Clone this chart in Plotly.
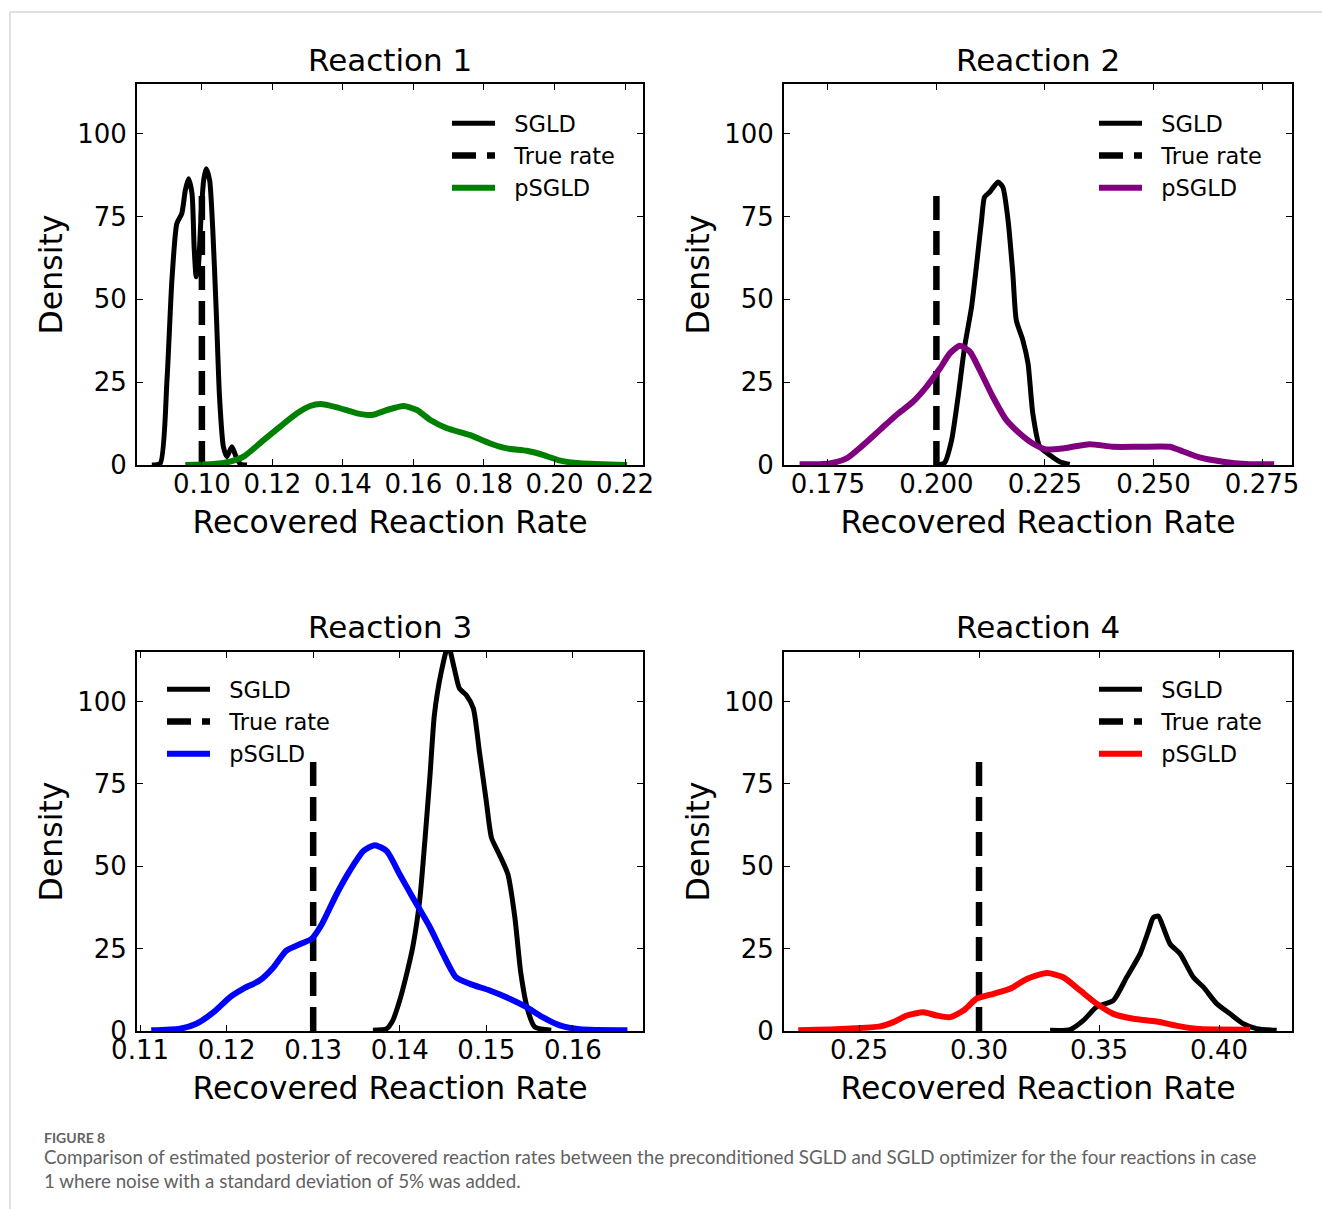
import plotly.graph_objects as go

# ---------------- data ----------------
titles = ["Reaction 1", "Reaction 2", "Reaction 3", "Reaction 4"]
true_rates = [0.10, 0.20, 0.13, 0.30]
true_rate_height = [83, 83, 83, 83]
psgld_colors = ["#008000", "#800080", "#0000ff", "#ff0000"]

r1_sgld_x = [0.0858, 0.0882, 0.0901, 0.0915, 0.0929, 0.0943, 0.0953, 0.0962, 0.0972, 0.0978,
             0.0984, 0.0990, 0.0998, 0.1005, 0.1012, 0.1022, 0.1031, 0.1041, 0.1050, 0.1061,
             0.1071, 0.1085, 0.1097, 0.1109, 0.1128]
r1_sgld_y = [0, 0.5, 25.6, 55.8, 72.9, 75.9, 82.9, 86.4, 81.9, 65.8,
             56.8, 59.8, 75.9, 85.9, 89.4, 85.9, 70.8, 45.7, 20.6, 5.5,
             2.5, 5.5, 2.5, 0.3, 0]
r1_psgld_x = [0.0953, 0.1033, 0.1080, 0.1118, 0.1175, 0.1222, 0.1270, 0.1307, 0.1336, 0.1383,
              0.1440, 0.1482, 0.1525, 0.1572, 0.1610, 0.1648, 0.1695, 0.1761, 0.1818, 0.1865,
              0.1922, 0.1969, 0.2017, 0.2073, 0.2206]
r1_psgld_y = [0, 0.3, 1.0, 2.5, 7.5, 11.6, 15.6, 17.8, 18.4, 17.4,
              15.6, 15.1, 16.6, 17.8, 16.6, 13.6, 11.1, 9.0, 6.5, 5.0,
              4.3, 3.0, 1.3, 0.5, 0]

r2_sgld_x = [0.2000, 0.2019, 0.2035, 0.2050, 0.2065, 0.2081, 0.2092, 0.2104, 0.2111, 0.2123,
             0.2142, 0.2153, 0.2165, 0.2176, 0.2184, 0.2199, 0.2211, 0.2222, 0.2238, 0.2261,
             0.2284, 0.2307]
r2_sgld_y = [0, 0.7, 7.5, 20.6, 35.7, 47.7, 59.8, 73.9, 80.9, 82.4,
             85.4, 83.9, 73.9, 57.8, 43.7, 37.7, 30.7, 15.6, 5.5, 3.0,
             1.0, 0.2]
r2_psgld_x = [0.1685, 0.1754, 0.1793, 0.1831, 0.1870, 0.1908, 0.1946, 0.1977, 0.2008, 0.2031,
              0.2054, 0.2077, 0.2100, 0.2130, 0.2161, 0.2192, 0.2222, 0.2253, 0.2291, 0.2353,
              0.2406, 0.2468, 0.2537, 0.2560, 0.2606, 0.2660, 0.2713, 0.2778]
r2_psgld_y = [0.2, 0.5, 2.0, 6.0, 10.6, 15.1, 19.1, 23.6, 29.1, 33.7,
              36.0, 34.2, 28.6, 20.6, 13.6, 9.5, 6.5, 4.7, 5.0, 6.3,
              5.5, 5.5, 5.5, 4.5, 2.3, 1.0, 0.3, 0.2]

r3_sgld_x = [0.1369, 0.1385, 0.1392, 0.1400, 0.1408, 0.1415, 0.1423, 0.1429, 0.1435, 0.1440,
             0.1448, 0.1456, 0.1463, 0.1469, 0.1477, 0.1485, 0.1492, 0.1500, 0.1506, 0.1515,
             0.1525, 0.1533, 0.1540, 0.1548, 0.1556, 0.1575]
r3_sgld_y = [0.2, 0.7, 3.2, 9.3, 17.3, 25.4, 39.5, 57.6, 77.7, 95.9,
             109.0, 117.0, 110.0, 103.9, 101.9, 97.9, 84.8, 69.7, 58.6, 53.6,
             47.5, 34.4, 17.3, 6.2, 1.2, 0.2]
r3_psgld_x = [0.1113, 0.1146, 0.1165, 0.1185, 0.1204, 0.1219, 0.1238, 0.1254, 0.1269, 0.1285,
              0.1298, 0.1310, 0.1327, 0.1342, 0.1358, 0.1371, 0.1385, 0.1400, 0.1415, 0.1435,
              0.1450, 0.1465, 0.1481, 0.1504, 0.1527, 0.1546, 0.1565, 0.1585, 0.1608, 0.1663]
r3_psgld_y = [0.2, 0.7, 2.2, 5.7, 10.3, 12.8, 15.3, 19.3, 24.4, 26.4,
              27.9, 32.4, 41.5, 48.5, 54.6, 56.4, 54.6, 47.5, 40.5, 31.4,
              23.4, 16.3, 14.3, 12.3, 9.8, 7.3, 4.2, 1.7, 0.5, 0.2]

r4_sgld_x = [0.3296, 0.3379, 0.3435, 0.3490, 0.3560, 0.3615, 0.3671, 0.3706, 0.3726, 0.3747,
             0.3768, 0.3796, 0.3838, 0.3893, 0.3935, 0.3990, 0.4046, 0.4101, 0.4157, 0.4240]
r4_sgld_y = [0.2, 0.4, 3.2, 7.3, 9.3, 16.3, 23.4, 30.4, 34.4, 34.9,
             31.4, 26.4, 23.4, 16.3, 13.3, 8.3, 5.2, 2.2, 0.7, 0.2]
r4_psgld_x = [0.2247, 0.2449, 0.2588, 0.2643, 0.2699, 0.2768, 0.2824, 0.2879, 0.2935, 0.2990,
              0.3060, 0.3129, 0.3199, 0.3282, 0.3351, 0.3421, 0.3490, 0.3560, 0.3643, 0.3740,
              0.3838, 0.3921, 0.4129]
r4_psgld_y = [0.2, 0.7, 1.4, 2.7, 4.7, 5.7, 4.7, 4.2, 6.2, 9.8,
              11.3, 12.8, 15.8, 17.6, 16.3, 12.3, 8.3, 5.2, 3.7, 2.9,
              1.4, 0.6, 0.4]

sgld_x = [r1_sgld_x, r2_sgld_x, r3_sgld_x, r4_sgld_x]
sgld_y = [r1_sgld_y, r2_sgld_y, r3_sgld_y, r4_sgld_y]
psgld_x = [r1_psgld_x, r2_psgld_x, r3_psgld_x, r4_psgld_x]
psgld_y = [r1_psgld_y, r2_psgld_y, r3_psgld_y, r4_psgld_y]
legend_labels = ["SGLD", "True rate", "pSGLD"]

x_ranges = [[0.0816, 0.2251], [0.1649, 0.2819], [0.10965, 0.1681], [0.21875, 0.4304]]
x_dticks = [0.02, 0.025, 0.01, 0.05]
x_formats = [".2f", ".3f", ".2f", ".2f"]
y_range = [0, 115]
y_ticks = [0, 25, 50, 75, 100]

# ---------------- layout geometry ----------------
W, H = 1322, 1209
FONT = "DejaVu Sans"
px_x = [(137, 643), (784, 1292), (137, 643), (784, 1292)]
px_y = [(84, 465), (84, 465), (652, 1031), (652, 1031)]
legend_pos = [(447, 102), (1094, 102), (162, 668), (1094, 668)]
title_y = [60, 60, 627, 627]
PAD = "\u00a0\u00a0"

fig = go.Figure()
legend_names = ["legend", "legend2", "legend3", "legend4"]

for i in range(4):
    xa = "x" if i == 0 else f"x{i+1}"
    ya = "y" if i == 0 else f"y{i+1}"
    lg = legend_names[i]
    fig.add_trace(go.Scatter(x=sgld_x[i], y=sgld_y[i], mode="lines", name=PAD + legend_labels[0],
                             line=dict(color="black", width=5, shape="spline", smoothing=0.6),
                             xaxis=xa, yaxis=ya, legend=lg))
    fig.add_trace(go.Scatter(x=[true_rates[i], true_rates[i]], y=[0, true_rate_height[i]],
                             mode="lines", name=PAD + legend_labels[1],
                             line=dict(color="black", width=6.5, dash="24px,11px"),
                             xaxis=xa, yaxis=ya, legend=lg))
    fig.add_trace(go.Scatter(x=psgld_x[i], y=psgld_y[i], mode="lines", name=PAD + legend_labels[2],
                             line=dict(color=psgld_colors[i], width=6, shape="spline", smoothing=0.6),
                             xaxis=xa, yaxis=ya, legend=lg))

layout = dict(
    width=W, height=H,
    margin=dict(l=0, r=0, t=0, b=0, autoexpand=False),
    paper_bgcolor="white", plot_bgcolor="white",
    font=dict(family=FONT, color="black"),
    showlegend=True,
)

for i in range(4):
    xk = "xaxis" if i == 0 else f"xaxis{i+1}"
    yk = "yaxis" if i == 0 else f"yaxis{i+1}"
    xa = "x" if i == 0 else f"x{i+1}"
    ya = "y" if i == 0 else f"y{i+1}"
    x0, x1 = px_x[i]
    yt, yb = px_y[i]
    common = dict(showgrid=False, zeroline=False, showline=True, linecolor="black",
                  linewidth=2, mirror="ticks", ticks="inside", ticklen=6, tickwidth=1.3,
                  tickcolor="black", tickfont=dict(family=FONT, size=26, color="black"),
                  automargin=False)
    layout[xk] = dict(common, domain=[x0 / W, x1 / W], range=x_ranges[i], anchor=ya,
                      dtick=x_dticks[i], tick0=0, tickformat=x_formats[i],
                      title=dict(text="Recovered Reaction Rate",
                                 font=dict(family=FONT, size=31.5, color="black"), standoff=13),
                      ticklabelstandoff=-5)
    layout[yk] = dict(common, domain=[1 - yb / H, 1 - yt / H], range=y_range, anchor=xa,
                      tickvals=y_ticks,
                      title=dict(text="Density", font=dict(family=FONT, size=31.5, color="black"),
                                 standoff=5),
                      ticklabelstandoff=3)
    lx, ly = legend_pos[i]
    layout[legend_names[i]] = dict(x=lx / W, y=1 - ly / H, xanchor="left", yanchor="top",
                                   bgcolor="rgba(0,0,0,0)", borderwidth=0, itemwidth=43,
                                   font=dict(family=FONT, size=22.5, color="black"),
                                   tracegroupgap=0)

annotations = []
for i in range(4):
    x0, x1 = px_x[i]
    annotations.append(dict(text=titles[i], xref="paper", yref="paper",
                            x=(x0 + x1) / 2 / W, y=1 - title_y[i] / H,
                            xanchor="center", yanchor="middle", showarrow=False,
                            font=dict(family=FONT, size=31, color="black")))

cap_font = "Lato"
annotations.append(dict(text="<b>FIGURE 8</b>", xref="paper", yref="paper", x=42 / W,
                        y=1 - 1137 / H, xanchor="left", yanchor="middle", showarrow=False,
                        font=dict(family=cap_font, size=14, color="#626262")))
annotations.append(dict(text="Comparison of estimated posterior of recovered reaction rates between the "
                             "preconditioned SGLD and SGLD optimizer for the four reactions in case",
                        xref="paper", yref="paper", x=42 / W, y=1 - 1156 / H,
                        xanchor="left", yanchor="middle", showarrow=False,
                        font=dict(family=cap_font, size=18.8, color="#626262")))
annotations.append(dict(text="1 where noise with a standard deviation of 5% was added.",
                        xref="paper", yref="paper", x=42 / W, y=1 - 1180 / H,
                        xanchor="left", yanchor="middle", showarrow=False,
                        font=dict(family=cap_font, size=18.8, color="#626262")))
layout["annotations"] = annotations

layout["shapes"] = [
    dict(type="line", xref="paper", yref="paper", x0=10 / W, x1=1.0, y0=1 - 12 / H, y1=1 - 12 / H,
         line=dict(color="#d6d6d6", width=1.5)),
    dict(type="line", xref="paper", yref="paper", x0=10 / W, x1=10 / W, y0=0, y1=1 - 12 / H,
         line=dict(color="#d6d6d6", width=1.5)),
]

fig.update_layout(layout)
fig.write_html("out.html")
